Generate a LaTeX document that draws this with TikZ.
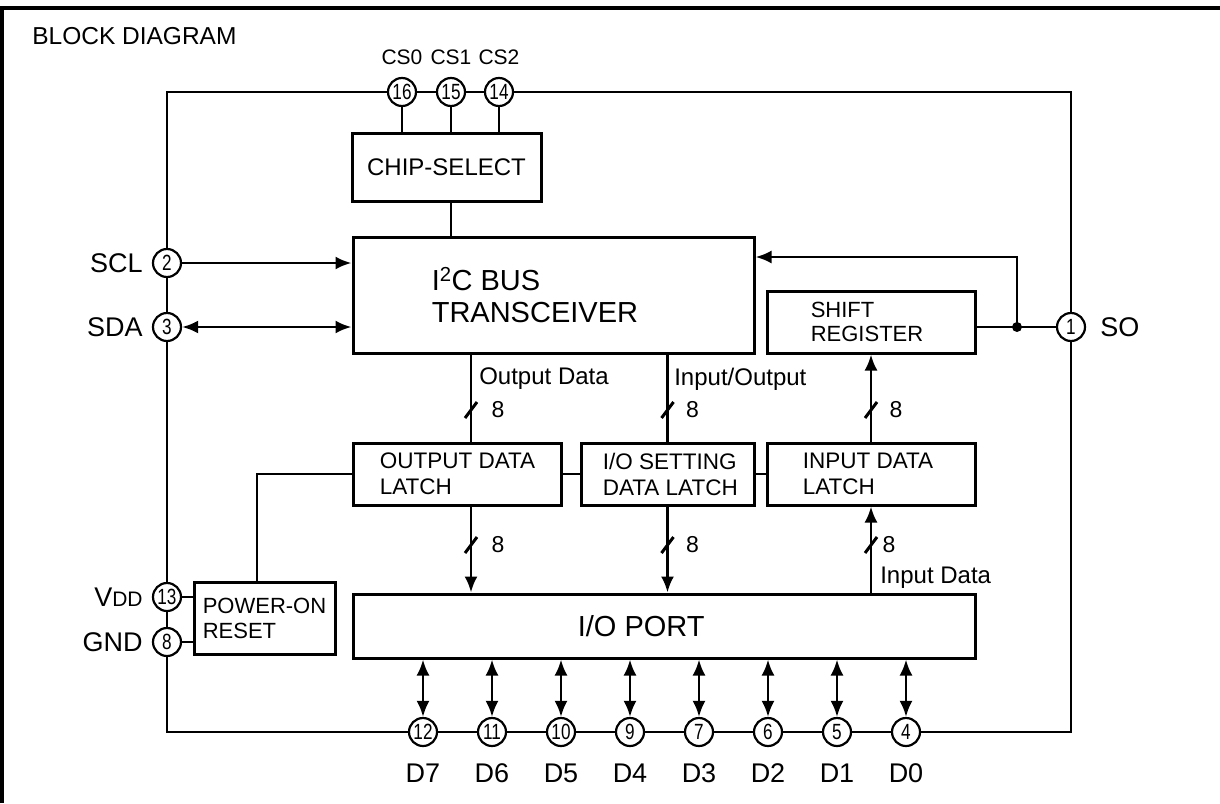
\documentclass[tikz,border=0pt]{standalone}
\usepackage{fontspec}
\setmainfont{Liberation Sans}
\newfontfamily\pinfont[FakeStretch=0.78]{Liberation Sans}
\usetikzlibrary{arrows.meta,positioning}
\newcommand{\fsz}[2]{\fontsize{#1}{#2}\selectfont}

\begin{document}
\begin{tikzpicture}[x=1pt, y=-1pt, line width=2.6pt,
	every node/.style={inner sep=0pt},
	box/.style={draw, rectangle, line width=3pt},
	pin/.style={draw, fill=white, circle, line width=2.2pt, minimum size=28pt, font=\pinfont\fsz{22}{22}},
	lbl/.style={font=\fsz{27}{27}},
	txt/.style={font=\fsz{22.5}{26}, align=left, anchor=west},
	sig/.style={font=\fsz{24}{24}, anchor=west},
	arr/.style={-{Latex[length=16pt,width=13pt]}},
	darr/.style={{Latex[length=16pt,width=13pt]}-{Latex[length=16pt,width=13pt]}},
	slash/.style={line width=3pt}]
	\useasboundingbox (0,0) rectangle (1220,803);
	\draw[line width=4pt] (2,803) -- (2,8) -- (1220,8);%
	\node[anchor=west, font=\fsz{24.5}{24.5}] (title) at (31,36) {BLOCK DIAGRAM};%
	% package outline
	\draw (167,92) rectangle (1071,732);%
	\foreach \n/\x/\t in {16/402/CS0, 15/451/CS1, 14/499/CS2}{
		\node[pin] (p\n) at (\x,92) {\n};
		\node[font=\fsz{21}{21}] (cs\n) at (\x,57) {\t};
	}
	\node[box, minimum width=189pt, minimum height=68pt, font=\fsz{24}{24}] (csel) at (446.5,167) {CHIP-SELECT};%
	\foreach \n in {16,15,14} \draw (p\n) -- (p\n |- csel.north);
	\node[box, minimum width=401pt, minimum height=116pt,
		label={[txt, font=\fsz{29}{32}, xshift=79pt]west:I\textsuperscript{2}C BUS\\TRANSCEIVER}] (trx) at (553.5,295) {};%
	\draw (csel.south -| p15) -- (trx.north -| p15);%
	% left side pins
	\node[pin] (p2) at (167,263) {2};
	\node[pin] (p3) at (167,327) {3};
	\node[pin] (p13) at (167,597) {13};
	\node[pin] (p8) at (167,642) {8};
	\node[lbl, left=8pt of p2] (scl) {SCL};
	\node[lbl, left=8pt of p3] (sda) {SDA};
	\node[lbl, left=8pt of p13] (vdd) {V{\fsz{21}{21}DD}};
	\node[lbl, left=8pt of p8] (gnd) {GND};
	\draw[arr] (p2) -- (trx.west |- p2);%
	\draw[darr] (p3) -- (trx.west |- p3);%
	% shift register and SO
	\node[box, minimum width=208pt, minimum height=62pt,
		label={[txt, font=\fsz{22}{24}, xshift=44pt]west:SHIFT\\REGISTER}] (sreg) at (871,322) {};%
	\node[pin] (p1) at (1071,327) {1};
	\node[lbl, right=13pt of p1] (so) {SO};
	\coordinate (jn) at (1017,327);
	\draw (sreg.east |- p1) -- (p1);%
	\fill (jn) circle (5pt);%
	\draw[arr] (jn) |- ([yshift=38pt]trx.east);%
	% latches
	\node[box, minimum width=208pt, minimum height=62pt,
		label={[txt, xshift=27pt]west:OUTPUT DATA\\LATCH}] (odl) at (457,474) {};%
	\node[box, minimum width=173pt, minimum height=62pt,
		label={[txt, xshift=22pt]west:I/O SETTING\\DATA LATCH}] (iol) at (667.5,474) {};%
	\node[box, minimum width=208pt, minimum height=62pt,
		label={[txt, xshift=36pt]west:INPUT DATA\\LATCH}] (idl) at (871,474) {};%
	\draw (odl) -- (iol) (iol) -- (idl);%
	% I/O port
	\node[box, minimum width=622pt, minimum height=64pt,
		label={[anchor=west, font=\fsz{29}{29}, xshift=225pt]west:I/O PORT}] (port) at (664,626) {};%
	% buses
	\coordinate (ob) at (471,0);
	\draw (trx.south -| ob) -- (odl.north -| ob);%
	\node[sig] (od) at (478,379) {Output Data};
	\draw (trx.south -| iol) -- (iol.north);%
	\node[sig] (io) at (673,379) {Input/Output};
	\draw[arr] (idl.north -| sreg) -- (sreg.south);%
	\draw[arr] (odl.south -| ob) -- (port.north -| ob);%
	\draw[arr] (iol.south) -- (port.north -| iol);%
	\draw[arr] (port.north -| idl) -- (idl.south);%
	\node[sig] (id) at (879,578) {Input Data};
	\foreach \k/\x/\y/\d in {a/471/410/27, b/667.5/410/25, c/871/410/25, d/471/545/27, e/667.5/545/25, f/871/545/18}{
		\draw[slash] (\x-6,\y+8) -- (\x+6,\y-8);
		\node[font=\fsz{23}{23}] (w\k) at (\x+\d,\y) {8};
	}
	% power-on reset
	\node[box, minimum width=141pt, minimum height=72pt,
		label={[txt, font=\fsz{22}{25}, xshift=9pt]west:POWER-ON\\RESET}] (por) at (264.5,618) {};%
	\draw (p13) -- (por.west |- p13);%
	\draw (p8) -- (por.west |- p8);%
	\draw (odl.west) -| ([xshift=-7.5pt]por.north);%
	% data pins
	\foreach \n/\x/\t in {12/423/D7, 11/492/D6, 10/561/D5, 9/630/D4, 7/699/D3, 6/768/D2, 5/837/D1, 4/906/D0}{
		\node[pin] (p\n) at (\x,732) {\n};
		\node[lbl] (d\n) at (\x,773) {\t};
		\draw[darr] (port.south -| p\n) -- (p\n);
	}
\end{tikzpicture}
\end{document}
